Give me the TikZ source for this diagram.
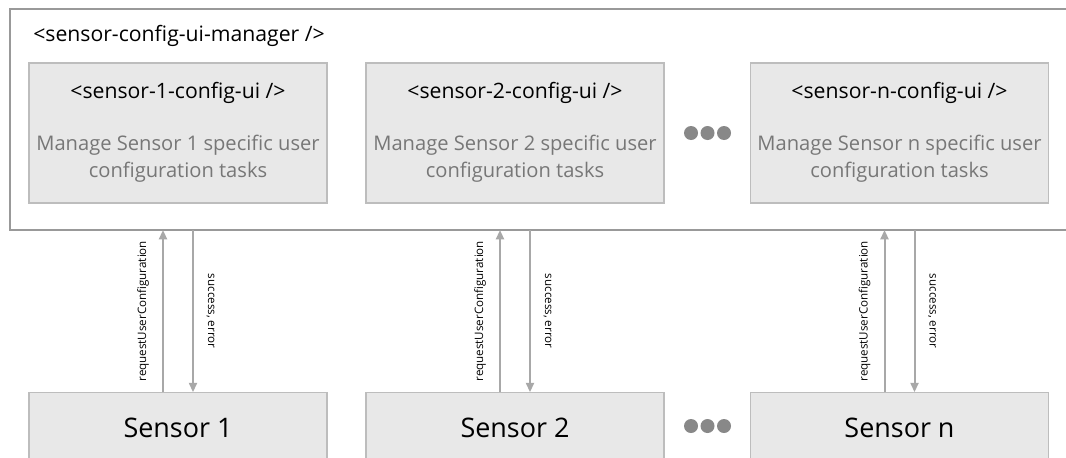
\documentclass[tikz,border=0pt]{standalone}
\usepackage{fontspec}
\setmainfont{Open Sans}
\usetikzlibrary{arrows.meta,calc}
\definecolor{outerline}{HTML}{999999}
\definecolor{boxline}{HTML}{BDBDBD}
\definecolor{boxfill}{HTML}{E8E8E8}
\definecolor{desc}{HTML}{777777}
\definecolor{arrowc}{HTML}{A8A8A8}
\definecolor{dotc}{HTML}{888888}
\tikzset{
  outerbox/.style={draw=outerline, line width=1.5pt, minimum width=793.5pt, minimum height=165.75pt, inner sep=0pt, outer sep=0pt},
  uibox/.style={draw=boxline, fill=boxfill, line width=1pt, minimum width=223.5pt, minimum height=105pt, inner sep=0pt, outer sep=0pt},
  sensorbox/.style={draw=boxline, fill=boxfill, line width=1pt, minimum width=223.5pt, minimum height=56pt, inner sep=0pt, outer sep=0pt},
  tagtext/.style={font=\fontsize{15.9}{18}\selectfont, text=black, inner sep=0pt},
  desctext/.style={font=\fontsize{15.1}{20.25}\selectfont, text=desc, align=center, inner sep=0pt},
  sensortext/.style={font=\fontsize{20.2}{24}\selectfont, text=black, inner sep=0pt},
  flow/.style={draw=arrowc, line width=1.5pt, -{Triangle[width=6pt,length=7pt]}},
  flowlabel/.style={font=\fontsize{8.7}{10}\selectfont, text=black, inner sep=0pt},
  dot/.style={circle, fill=dotc, minimum size=10.5pt, inner sep=0pt, outer sep=0pt},
}
\begin{document}
\begin{tikzpicture}[x=0.75pt,y=-0.75pt]
\useasboundingbox (0,0) rectangle (1066,457);
\fill[white] (0,0) rectangle (1066,457);
\node[outerbox] (outer) at (539,119.5) {};
\node[tagtext, anchor=west] (title) at (33,36) {<sensor-config-ui-manager />};

\foreach \i/\cx/\lab in {1/178/1, 2/515/2, n/899.5/n}{
  \node[uibox] (ui\i) at (\cx,133) {};
  \node[tagtext] (uit\i) at (\cx,93) {<sensor-\lab-config-ui />};
  \node[desctext] (uid\i) at (\cx,158.5) {Manage Sensor \lab\ specific user\\configuration tasks};
  \node[sensorbox] (s\i) at (\cx,429.5) {};
  \node[sensortext] (st\i) at (\cx,428) {Sensor \lab};
  \coordinate (up\i) at ([xshift=-11.25pt]s\i.north);
  \coordinate (dn\i) at ([xshift=11.25pt]s\i.north);
  \draw[flow] (up\i) -- (up\i |- outer.south);
  \draw[flow] (dn\i |- outer.south) -- (dn\i);
  \node[flowlabel, rotate=90] (rl\i) at ($(up\i)+(-20,-81)$) {requestUserConfiguration};
  \node[flowlabel, rotate=-90] (el\i) at ($(dn\i)+(17.5,-81)$) {success, error};
}

\node[dot] (d1) at (691,133) {};
\node[dot] (d2) at (707.5,133) {};
\node[dot] (d3) at (724,133) {};
\node[dot] (e1) at (691,426) {};
\node[dot] (e2) at (707.5,426) {};
\node[dot] (e3) at (724,426) {};
\end{tikzpicture}
\end{document}
